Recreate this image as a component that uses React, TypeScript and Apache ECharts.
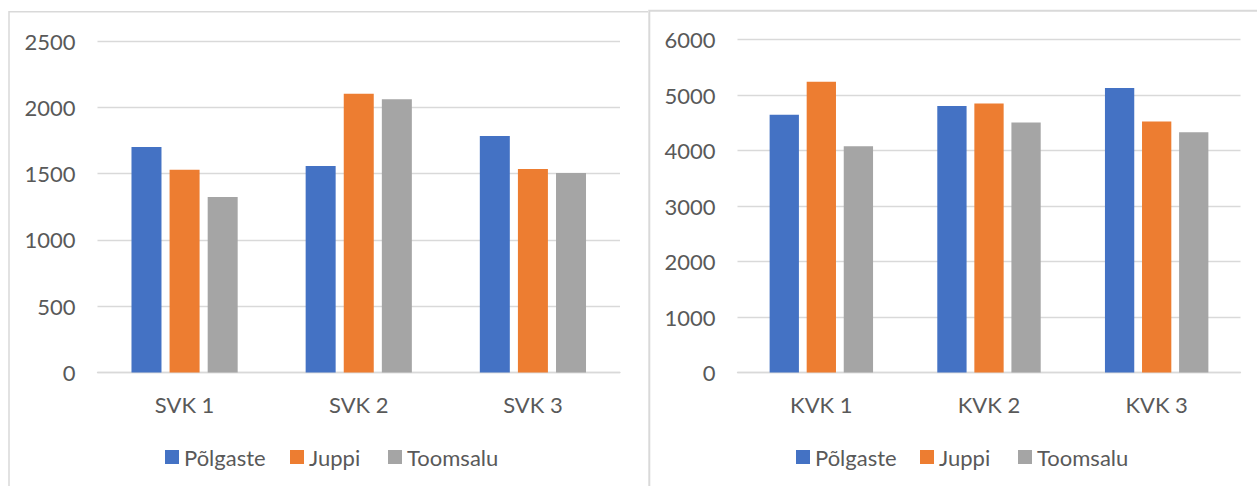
import React, { useEffect, useRef } from "react";
import * as echarts from "echarts";

const seriesNames = ["Põlgaste", "Juppi", "Toomsalu"];
const seriesColors = ["#4472C4", "#ED7D31", "#A5A5A5"];

const svkCategories = ["SVK 1", "SVK 2", "SVK 3"];
const svkPolgaste = [1700, 1557, 1784];
const svkJuppi = [1530, 2103, 1535];
const svkToomsalu = [1324, 2060, 1505];
const svkMax = 2500;
const svkStep = 500;

const kvkCategories = ["KVK 1", "KVK 2", "KVK 3"];
const kvkPolgaste = [4646, 4803, 5128];
const kvkJuppi = [5242, 4850, 4525];
const kvkToomsalu = [4081, 4507, 4334];
const kvkMax = 6000;
const kvkStep = 1000;

const FONT = "Lato";
const TEXT = "#595959";
const GRID = "#D9D9D9";
const FS = 22;

export default function App() {
  const ref = useRef<HTMLDivElement>(null);
  useEffect(() => {
    if (!ref.current) return;
    const chart = echarts.init(ref.current, null, { renderer: "svg" });
    const svkData = [svkPolgaste, svkJuppi, svkToomsalu];
    const kvkData = [kvkPolgaste, kvkJuppi, kvkToomsalu];

    const xAxisCommon = {
      type: "category" as const,
      axisLine: { show: true, lineStyle: { color: GRID, width: 1.3 } },
      axisTick: { show: false },
      axisLabel: { color: TEXT, fontFamily: FONT, fontSize: FS, margin: 21 },
      splitLine: { show: false },
    };
    const yAxisCommon = {
      type: "value" as const,
      min: 0,
      axisLine: { show: false },
      axisTick: { show: false },
      axisLabel: {
        color: TEXT,
        fontFamily: FONT,
        fontSize: FS,
        margin: 22,
        formatter: (v: number) => String(v),
      },
      splitLine: { show: true, lineStyle: { color: GRID, width: 1.3 } },
    };

    const legendLefts = [
      [165, 290, 388],
      [796, 920, 1018],
    ];
    const legends: any[] = [];
    legendLefts.forEach((row) =>
      row.forEach((x, i) => {
        legends.push({
          data: [seriesNames[i]],
          left: x,
          top: 446,
          padding: 0,
          itemWidth: 14,
          itemHeight: 14,
          icon: "rect",
          textStyle: { color: TEXT, fontFamily: FONT, fontSize: FS },
        });
      })
    );

    const series: any[] = [];
    seriesNames.forEach((name, i) => {
      series.push({
        type: "bar",
        name,
        xAxisIndex: 0,
        yAxisIndex: 0,
        data: svkData[i],
        barWidth: 30,
        barGap: "27%",
        itemStyle: { color: seriesColors[i] },
      });
    });
    seriesNames.forEach((name, i) => {
      series.push({
        type: "bar",
        name,
        xAxisIndex: 1,
        yAxisIndex: 1,
        data: kvkData[i],
        barWidth: 29.3,
        barGap: "26.5%",
        itemStyle: { color: seriesColors[i] },
      });
    });

    chart.setOption({
      animation: false,
      backgroundColor: "#ffffff",
      grid: [
        { left: 97.5, top: 41, width: 522.5, height: 331.6, outerBoundsMode: "none" },
        { left: 737.5, top: 39.7, width: 503, height: 332.9, outerBoundsMode: "none" },
      ],
      xAxis: [
        { ...xAxisCommon, gridIndex: 0, data: svkCategories },
        { ...xAxisCommon, gridIndex: 1, data: kvkCategories },
      ],
      yAxis: [
        { ...yAxisCommon, gridIndex: 0, max: svkMax, interval: svkStep },
        { ...yAxisCommon, gridIndex: 1, max: kvkMax, interval: kvkStep },
      ],
      legend: legends,
      series,
      graphic: [
        {
          type: "polyline",
          silent: true,
          shape: { points: [[9, 500], [9, 11.7], [648, 11.7]] },
          style: { stroke: GRID, lineWidth: 1.5, fill: "none" },
        },
        {
          type: "polyline",
          silent: true,
          shape: { points: [[649.3, 500], [649.3, 10.7], [1260, 10.7]] },
          style: { stroke: GRID, lineWidth: 2, fill: "none" },
        },
      ],
    });
    return () => chart.dispose();
  }, []);
  return (
    <div
      ref={ref}
      style={{ position: "fixed", left: 0, top: 0, width: 1257, height: 486 }}
    />
  );
}
